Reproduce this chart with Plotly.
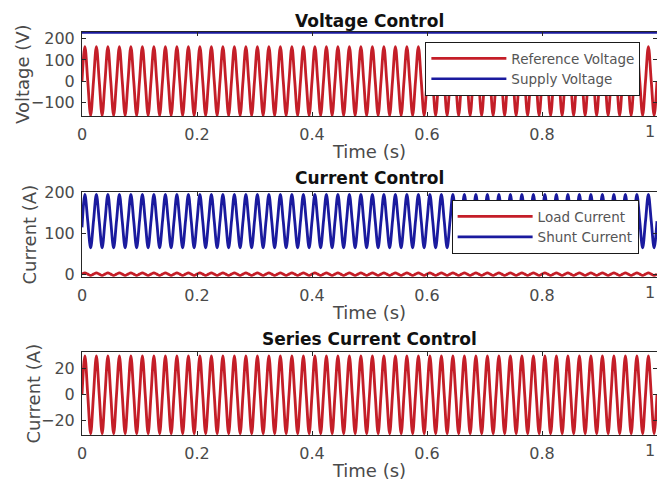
import plotly.graph_objects as go

# ---------------- data ----------------
SAMPLE_STEP = 0.005  # quarter-period samples of the 50 Hz waveforms (s)

ref_voltage = [
    0, 163, 0, -163, 0, 163, 0, -163, 0, 163, 0, -163, 0, 163, 0, -163, 0, 163, 0, -163,
    0, 163, 0, -163, 0, 163, 0, -163, 0, 163, 0, -163, 0, 163, 0, -163, 0, 163, 0, -163,
    0, 163, 0, -163, 0, 163, 0, -163, 0, 163, 0, -163, 0, 163, 0, -163, 0, 163, 0, -163,
    0, 163, 0, -163, 0, 163, 0, -163, 0, 163, 0, -163, 0, 163, 0, -163, 0, 163, 0, -163,
    0, 163, 0, -163, 0, 163, 0, -163, 0, 163, 0, -163, 0, 163, 0, -163, 0, 163, 0, -163,
    0, 163, 0, -163, 0, 163, 0, -163, 0, 163, 0, -163, 0, 163, 0, -163, 0, 163, 0, -163,
    0, 163, 0, -163, 0, 163, 0, -163, 0, 163, 0, -163, 0, 163, 0, -163, 0, 163, 0, -163,
    0, 163, 0, -163, 0, 163, 0, -163, 0, 163, 0, -163, 0, 163, 0, -163, 0, 163, 0, -163,
    0, 163, 0, -163, 0, 163, 0, -163, 0, 163, 0, -163, 0, 163, 0, -163, 0, 163, 0, -163,
    0, 163, 0, -163, 0, 163, 0, -163, 0, 163, 0, -163, 0, 163, 0, -163, 0, 163, 0, -163,
    0,
]

supply_time = [0, 1]
supply_voltage = [230, 230]

load_current = [
    1, 4, 1, -2, 1, 4, 1, -2, 1, 4, 1, -2, 1, 4, 1, -2, 1, 4, 1, -2,
    1, 4, 1, -2, 1, 4, 1, -2, 1, 4, 1, -2, 1, 4, 1, -2, 1, 4, 1, -2,
    1, 4, 1, -2, 1, 4, 1, -2, 1, 4, 1, -2, 1, 4, 1, -2, 1, 4, 1, -2,
    1, 4, 1, -2, 1, 4, 1, -2, 1, 4, 1, -2, 1, 4, 1, -2, 1, 4, 1, -2,
    1, 4, 1, -2, 1, 4, 1, -2, 1, 4, 1, -2, 1, 4, 1, -2, 1, 4, 1, -2,
    1, 4, 1, -2, 1, 4, 1, -2, 1, 4, 1, -2, 1, 4, 1, -2, 1, 4, 1, -2,
    1, 4, 1, -2, 1, 4, 1, -2, 1, 4, 1, -2, 1, 4, 1, -2, 1, 4, 1, -2,
    1, 4, 1, -2, 1, 4, 1, -2, 1, 4, 1, -2, 1, 4, 1, -2, 1, 4, 1, -2,
    1, 4, 1, -2, 1, 4, 1, -2, 1, 4, 1, -2, 1, 4, 1, -2, 1, 4, 1, -2,
    1, 4, 1, -2, 1, 4, 1, -2, 1, 4, 1, -2, 1, 4, 1, -2, 1, 4, 1, -2,
    1,
]

shunt_current = [
    115, 195, 130, 65, 130, 195, 130, 65, 130, 195, 130, 65, 130, 195, 130, 65, 130, 195, 130, 65,
    130, 195, 130, 65, 130, 195, 130, 65, 130, 195, 130, 65, 130, 195, 130, 65, 130, 195, 130, 65,
    130, 195, 130, 65, 130, 195, 130, 65, 130, 195, 130, 65, 130, 195, 130, 65, 130, 195, 130, 65,
    130, 195, 130, 65, 130, 195, 130, 65, 130, 195, 130, 65, 130, 195, 130, 65, 130, 195, 130, 65,
    130, 195, 130, 65, 130, 195, 130, 65, 130, 195, 130, 65, 130, 195, 130, 65, 130, 195, 130, 65,
    130, 195, 130, 65, 130, 195, 130, 65, 130, 195, 130, 65, 130, 195, 130, 65, 130, 195, 130, 65,
    130, 195, 130, 65, 130, 195, 130, 65, 130, 195, 130, 65, 130, 195, 130, 65, 130, 195, 130, 65,
    130, 195, 130, 65, 130, 195, 130, 65, 130, 195, 130, 65, 130, 195, 130, 65, 130, 195, 130, 65,
    130, 195, 130, 65, 130, 195, 130, 65, 130, 195, 130, 65, 130, 195, 130, 65, 130, 195, 130, 65,
    130, 195, 130, 65, 130, 195, 130, 65, 130, 195, 130, 65, 130, 195, 130, 65, 130, 195, 130, 65,
    130,
]

series_current = [
    0, 30, 0, -30, 0, 30, 0, -30, 0, 30, 0, -30, 0, 30, 0, -30, 0, 30, 0, -30,
    0, 30, 0, -30, 0, 30, 0, -30, 0, 30, 0, -30, 0, 30, 0, -30, 0, 30, 0, -30,
    0, 30, 0, -30, 0, 30, 0, -30, 0, 30, 0, -30, 0, 30, 0, -30, 0, 30, 0, -30,
    0, 30, 0, -30, 0, 30, 0, -30, 0, 30, 0, -30, 0, 30, 0, -30, 0, 30, 0, -30,
    0, 30, 0, -30, 0, 30, 0, -30, 0, 30, 0, -30, 0, 30, 0, -30, 0, 30, 0, -30,
    0, 30, 0, -30, 0, 30, 0, -30, 0, 30, 0, -30, 0, 30, 0, -30, 0, 30, 0, -30,
    0, 30, 0, -30, 0, 30, 0, -30, 0, 30, 0, -30, 0, 30, 0, -30, 0, 30, 0, -30,
    0, 30, 0, -30, 0, 30, 0, -30, 0, 30, 0, -30, 0, 30, 0, -30, 0, 30, 0, -30,
    0, 30, 0, -30, 0, 30, 0, -30, 0, 30, 0, -30, 0, 30, 0, -30, 0, 30, 0, -30,
    0, 30, 0, -30, 0, 30, 0, -30, 0, 30, 0, -30, 0, 30, 0, -30, 0, 30, 0, -30,
    0,
]

time_s = [round(k * SAMPLE_STEP, 4) for k in range(len(ref_voltage))]

x_ticks = [0, 0.2, 0.4, 0.6, 0.8, 1]
x_ticktext = ["0", "0.2", "0.4", "0.6", "0.8", "1"]
v_ticks = [-100, 0, 100, 200]
i_ticks = [0, 100, 200]
s_ticks = [-20, 0, 20]

panel_titles = ["Voltage Control", "Current Control", "Series Current Control"]
y_titles = ["Voltage (V)", "Current (A)", "Current (A)"]

# ---------------- style ----------------
RED = "#c41e28"
BLUE = "#1a1a9e"
AXC = "#262626"
TXT = "#4a4a4a"
FONT = "DejaVu Sans"
W, H = 657, 483
L = 82
PW = W - L

def ydom(top_px, bot_px):
    return [1 - bot_px / H, 1 - top_px / H]

doms = [ydom(32, 116), ydom(192, 277), ydom(352, 435)]
title_shift = [-1, 2, 1]
ytitle_px = [23, 29, 33]

fig = go.Figure()
lw = 2.8
fig.add_trace(go.Scatter(x=time_s, y=ref_voltage, name="Reference Voltage", mode="lines",
                         line=dict(color=RED, width=lw, shape="spline"),
                         xaxis="x", yaxis="y", legend="legend"))
fig.add_trace(go.Scatter(x=supply_time, y=supply_voltage, name="Supply Voltage", mode="lines",
                         line=dict(color=BLUE, width=2.5),
                         xaxis="x", yaxis="y", legend="legend"))
fig.add_trace(go.Scatter(x=time_s, y=load_current, name="Load Current", mode="lines",
                         line=dict(color=RED, width=lw, shape="spline"),
                         xaxis="x2", yaxis="y2", legend="legend2"))
fig.add_trace(go.Scatter(x=time_s, y=shunt_current, name="Shunt Current", mode="lines",
                         line=dict(color=BLUE, width=lw, shape="spline"),
                         xaxis="x2", yaxis="y2", legend="legend2"))
fig.add_trace(go.Scatter(x=time_s, y=series_current, name="Series Current", mode="lines",
                         line=dict(color=RED, width=lw, shape="spline"),
                         xaxis="x3", yaxis="y3", showlegend=False))

# The last tick label ("1") sits on the figure's right edge; it is drawn as a
# right-anchored annotation so that it stays fully visible.
axis_ticktext = x_ticktext[:-1] + [""]

def xax(anchor):
    return dict(domain=[0, 1], range=[0, 1], anchor=anchor,
                tickvals=x_ticks, ticktext=axis_ticktext,
                ticks="inside", ticklen=4, tickcolor=AXC,
                showline=True, linecolor=AXC, linewidth=1, mirror="ticks",
                showgrid=False, zeroline=False,
                tickfont=dict(family=FONT, size=16, color=TXT),
                ticklabelstandoff=4,
                title=dict(text="Time (s)", font=dict(family=FONT, size=18, color=TXT), standoff=2),
                automargin=False)

def yax(anchor, dom, rng, ticks):
    return dict(domain=dom, range=rng, anchor=anchor, tickvals=ticks,
                ticks="inside", ticklen=4, tickcolor=AXC,
                showline=True, linecolor=AXC, linewidth=1, mirror="ticks",
                showgrid=False, zeroline=False,
                tickfont=dict(family=FONT, size=16, color=TXT),
                ticklabelstandoff=3, ticklabeloverflow="allow",
                automargin=False)

legend_common = dict(bgcolor="white", bordercolor="#1a1a1a", borderwidth=1,
                     font=dict(family=FONT, size=13.5, color="#555555"),
                     itemwidth=75, xanchor="right", yanchor="top",
                     tracegroupgap=0)

annotations = []
for t, d, s in zip(panel_titles, doms, title_shift):
    annotations.append(dict(text=f"<b>{t}</b>", x=0.5, y=d[1], xref="paper", yref="paper",
                            xanchor="center", yanchor="bottom", yshift=s, showarrow=False,
                            font=dict(family=FONT, size=17, color="#111111")))
for t, d, px in zip(y_titles, doms, ytitle_px):
    annotations.append(dict(text=t, x=(px - L) / PW, y=(d[0] + d[1]) / 2,
                            xref="paper", yref="paper", xanchor="center", yanchor="middle",
                            textangle=-90, showarrow=False,
                            font=dict(family=FONT, size=18, color=TXT)))
for d in doms:
    annotations.append(dict(text=x_ticktext[-1], x=x_ticks[-1], y=d[0],
                            xref="paper", yref="paper", xanchor="right", yanchor="top",
                            yshift=-4, showarrow=False,
                            font=dict(family=FONT, size=16, color=TXT)))

fig.update_layout(
    width=W, height=H, autosize=False,
    margin=dict(l=L, r=0, t=0, b=0),
    paper_bgcolor="white", plot_bgcolor="white",
    xaxis=xax("y"), xaxis2=xax("y2"), xaxis3=xax("y3"),
    yaxis=yax("x", doms[0], [-165, 232], v_ticks),
    yaxis2=yax("x2", doms[1], [-6, 201], i_ticks),
    yaxis3=yax("x3", doms[2], [-31, 33], s_ticks),
    legend=dict(x=638 / W, y=1 - 42 / H, **legend_common),
    legend2=dict(x=636 / W, y=1 - 200 / H, **legend_common),
    annotations=annotations,
    showlegend=True,
)

fig.write_html("out.html")
